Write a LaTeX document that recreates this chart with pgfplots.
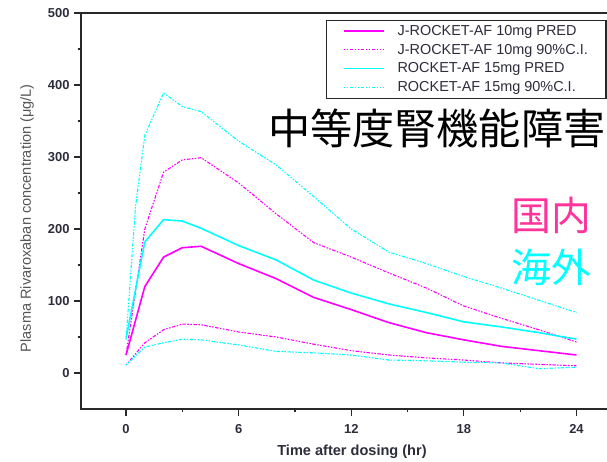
\documentclass[border=0pt]{standalone}
\usepackage{fontspec}
\setmainfont{Liberation Sans}
\newfontfamily\cjk{Noto Sans CJK JP}
\usepackage{pgfplots}
\pgfplotsset{compat=1.18}
\definecolor{mag}{RGB}{255,0,255}
\definecolor{cya}{RGB}{0,255,255}
\definecolor{pinktxt}{RGB}{255,51,153}
\definecolor{axgray}{RGB}{40,40,40}
\definecolor{ticktxt}{RGB}{45,45,60}
\definecolor{labgray}{RGB}{85,85,85}
\tikzset{cipat/.style={dash pattern=on 1.5pt off 1.5pt on 1.5pt off 1.5pt on 3.5pt off 1.5pt}}
\begin{document}
\begin{tikzpicture}[x=1bp,y=1bp]
\path[use as bounding box] (0,0) rectangle (607,462);
\begin{axis}[
  at={(81bp,53bp)}, anchor=south west,
  scale only axis, width=533bp, height=396bp,
  xmin=-2.4, xmax=26, ymin=-50, ymax=500,
  tick pos=left, tick align=outside,
  xtick={0,6,12,18,24}, minor xtick={3,9,15,21},
  ytick={0,100,200,300,400,500}, minor ytick={50,150,250,350,450},
  major tick length=7bp, minor tick length=3.5bp,
  every tick/.style={axgray, line width=1.2pt},
  axis line style={axgray, line width=1.4pt},
  /pgf/number format/assume math mode=true,
  ticklabel style={font=\fontsize{13}{13}\selectfont\bfseries, text=ticktxt},
  yticklabel style={xshift=-1bp},
  xticklabel style={yshift=-5bp},
  xlabel={Time after dosing (hr)},
  xlabel style={at={(axis description cs:0.5084,-0.1086)}, anchor=center, font=\fontsize{14.6}{15}\selectfont\bfseries, text=ticktxt},
  ylabel={Plasma Rivaroxaban concentration (μg/L)},
  ylabel style={at={(axis description cs:-0.1013,0.482)}, anchor=center, rotate=0, font=\fontsize{14.6}{15}\selectfont, text=labgray},
  legend cell align=left,
  legend image code/.code={\draw[#1] (0bp,0bp) -- (40bp,0bp);},
  legend style={name=leg, at={(axis description cs:0.985,0.982)}, anchor=north east,
    draw=none, fill=white,
    font=\fontsize{14.5}{15}\selectfont, text=ticktxt,
    inner xsep=16bp, inner ysep=3bp, row sep=3.2bp,
    nodes={inner ysep=2bp, inner xsep=2bp},
    /tikz/every odd column/.append style={column sep=11bp}},
]
\addplot[mag, line width=1.6pt] coordinates {(0,25) (1,120) (2,161) (3,174) (4,176) (6,152) (8,131) (10,105) (12,88) (14,70) (16,56) (18,46) (20,37) (22,31) (24,25)};
\addlegendentry{J-ROCKET-AF 10mg PRED}
\addplot[mag, line width=1.1pt, cipat] coordinates {(0,25) (1,200) (2,279) (3,296) (4,299) (6,264) (8,221) (10,181) (12,161) (14,139) (16,118) (18,93) (20,76) (22,60) (24,43)};
\addlegendentry{J-ROCKET-AF 10mg 90\%C.I.}
\addplot[mag, line width=1.1pt, cipat, forget plot] coordinates {(0,11) (1,42) (2,60) (3,68) (4,67) (6,57) (8,50) (10,40) (12,31) (14,25) (16,21) (18,18) (20,14) (22,12) (24,10)};
\addplot[cya, line width=1.6pt] coordinates {(0,48) (1,182) (2,213) (3,211) (4,201) (6,177) (8,157) (10,129) (12,111) (14,96) (16,84) (18,71) (20,64) (22,56) (24,47)};
\addlegendentry{ROCKET-AF 15mg PRED}
\addplot[cya, line width=1.1pt, cipat] coordinates {(0,46) (0.5,230) (1,330) (2,389) (3,370) (4,363) (6,322) (8,289) (10,245) (12,200) (14,168) (16,152) (18,134) (20,118) (22,101) (24,84)};
\addlegendentry{ROCKET-AF 15mg 90\%C.I.}
\addplot[cya, line width=1.1pt, cipat, forget plot] coordinates {(0,11) (1,36) (2,42) (3,47) (4,46) (6,39) (8,30) (10,28) (12,25) (14,18) (16,17) (18,15) (20,14) (22,6) (24,8)};
\end{axis}
\draw[axgray, line width=1.2pt] (leg.south west) rectangle (leg.north east);
\node[anchor=west, inner sep=0pt, font=\cjk\fontsize{42.3}{42}\selectfont] at (268,334) {中等度腎機能障害};
\node[anchor=west, inner sep=0pt, font=\cjk\fontsize{40}{40}\selectfont, text=pinktxt] at (511,247) {国内};
\node[anchor=west, inner sep=0pt, font=\cjk\fontsize{40}{40}\selectfont, text=cya] at (511,195) {海外};
\end{tikzpicture}
\end{document}
